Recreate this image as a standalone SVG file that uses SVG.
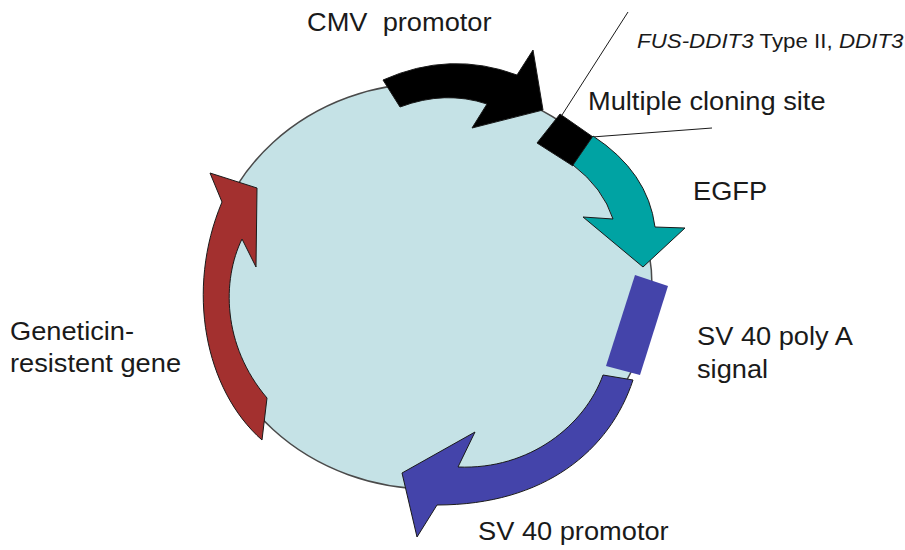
<svg xmlns="http://www.w3.org/2000/svg" width="905" height="550" viewBox="0 0 905 550">
<style>
  .lbl { font-family: "Liberation Sans", Arial, sans-serif; font-size: 25px; fill: #1a1a1a; }
  .small { font-size: 20.5px; }
  .it { font-style: italic; }
  .arr { stroke: #1a1a1a; stroke-width: 1; stroke-linejoin: miter; }
  .lead { stroke: #1a1a1a; stroke-width: 1; fill: none; }
</style>
<rect width="905" height="550" fill="#ffffff"/>
<g id="plasmid">
  <ellipse cx="430" cy="286" rx="222" ry="203" fill="#C5E2E6" stroke="#4a4a4a" stroke-width="1.5"/>
</g>
<g id="connectors">
  <line class="lead" x1="562" y1="115" x2="628" y2="12"/>
  <line class="lead" x1="592" y1="137" x2="712" y2="128"/>
</g>
<g id="cmv">
  <path class="arr" fill="#000000" d="M 383,80 Q 450,50 517,75 L 533,50 L 543,110 L 472,128 L 487,104 Q 445,90 400,107 Z"/>
  <text class="lbl" xml:space="preserve" transform="translate(307,31) scale(1.09,1)">CMV  promotor</text>
</g>
<g id="insert">
  <text class="lbl small" transform="translate(637,48) scale(1.09,1)"><tspan class="it">FUS-DDIT3</tspan> Type II, <tspan class="it">DDIT3</tspan></text>
</g>
<g id="mcs">
  <path class="arr" fill="#000000" d="M 537,143 L 560,114 L 593,137 L 573,166 Z"/>
  <text class="lbl" transform="translate(588,110) scale(1.09,1)">Multiple cloning site</text>
</g>
<g id="egfp">
  <path class="arr" fill="#00A3A3" d="M 593,136 Q 648,172 655,227 L 685,228 L 643,267 L 583,217 L 613,219 Q 603,188 573,165 Z"/>
  <text class="lbl" transform="translate(693,200) scale(1.09,1)">EGFP</text>
</g>
<g id="polyA">
  <path fill="#4444AA" d="M 635,275 L 668,286 L 640,375 L 606,366 Z"/>
  <text class="lbl" transform="translate(697,345) scale(1.09,1)">SV 40 poly A</text>
  <text class="lbl" transform="translate(697,378) scale(1.09,1)">signal</text>
</g>
<g id="sv40">
  <path class="arr" fill="#4444AA" d="M 633,380 C 610,450 545,505 437,505 L 417,537 L 402,473 L 475,432 L 458,467 C 530,470 585,425 603,375 Z"/>
  <text class="lbl" transform="translate(478,540) scale(1.09,1)">SV 40 promotor</text>
</g>
<g id="neo">
  <path class="arr" fill="#A3302F" d="M 210,173 L 257,188 L 256,267 L 242,239 C 222,280 222,345 267,398 L 262,440 C 205,390 185,290 222,202 Z"/>
  <text class="lbl" transform="translate(10,340) scale(1.09,1)">Geneticin-</text>
  <text class="lbl" transform="translate(10,372) scale(1.09,1)">resistent gene</text>
</g>
</svg>
